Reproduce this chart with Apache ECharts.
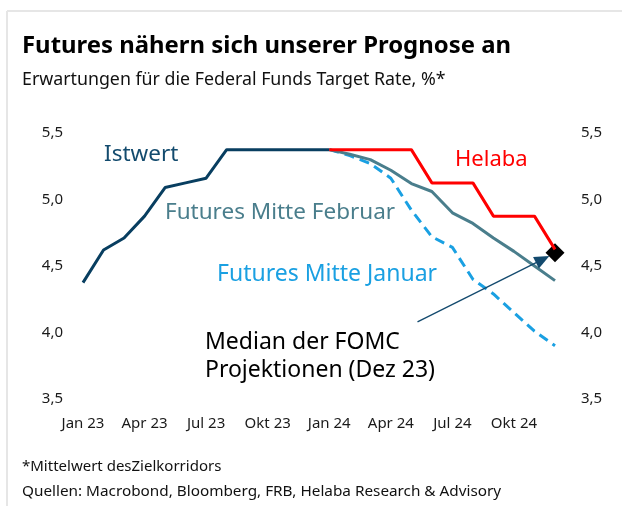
<!DOCTYPE html>
<html>
<head>
<meta charset="utf-8">
<script src="https://cdn.jsdelivr.net/npm/echarts@6/dist/echarts.min.js"></script>
<style>
  html, body { margin: 0; padding: 0; background: #fff; }
  #chartmain { width: 622px; height: 506px; }
</style>
</head>
<body>
<div id="chartmain"></div>
<script>
// Monate Jan 23 .. Dez 24
var months = ['Jan 23', 'Feb 23', 'Mär 23', 'Apr 23', 'Mai 23', 'Jun 23',
  'Jul 23', 'Aug 23', 'Sep 23', 'Okt 23', 'Nov 23', 'Dez 23',
  'Jan 24', 'Feb 24', 'Mär 24', 'Apr 24', 'Mai 24', 'Jun 24',
  'Jul 24', 'Aug 24', 'Sep 24', 'Okt 24', 'Nov 24', 'Dez 24'];

var istwert = [4.375, 4.62, 4.71, 4.875, 5.09, 5.125, 5.16, 5.375, 5.375, 5.375, 5.375, 5.375, 5.375,
  null, null, null, null, null, null, null, null, null, null, null];
var futuresFeb = [null, null, null, null, null, null, null, null, null, null, null, null,
  5.375, 5.34, 5.30, 5.22, 5.12, 5.06, 4.90, 4.82, 4.71, 4.61, 4.50, 4.39];
var futuresJan = [null, null, null, null, null, null, null, null, null, null, null, null,
  5.375, 5.33, 5.27, 5.16, 4.92, 4.72, 4.64, 4.40, 4.29, 4.15, 4.01, 3.90];
var helaba = [null, null, null, null, null, null, null, null, null, null, null, null,
  5.375, 5.375, 5.375, 5.375, 5.375, 5.125, 5.125, 5.125, 4.875, 4.875, 4.875, 4.625];
var fomcMedian = [[23, 4.6]];
var yTicks = [3.5, 4.0, 4.5, 5.0, 5.5];

function pairs(arr) {
  return arr.map(function (v, i) { return [i, v]; });
}

var font = 'Noto Sans';
var axisLbl = {
  fontFamily: font, fontSize: 15, color: '#1a1a1a',
  formatter: function (v) { return v.toFixed(1).replace('.', ','); }
};

// Textbausteine (Mitte der Versalhöhe)
function txt(x, y, s, size, color, weight) {
  return {
    type: 'text', x: x, y: y,
    style: {
      text: s, fill: color, verticalAlign: 'middle', align: 'left',
      font: (weight || 'normal') + ' ' + size + 'px "Noto Sans"'
    }
  };
}

var option = {
  backgroundColor: '#fff',
  animation: false,
  grid: { left: 83, right: 67, top: 133, bottom: 107 },
  xAxis: {
    type: 'value', min: 0, max: 23, interval: 3,
    axisLine: { show: false }, axisTick: { show: false }, splitLine: { show: false },
    axisLabel: {
      fontFamily: font, fontSize: 15, color: '#1a1a1a', margin: 17,
      showMaxLabel: false,
      formatter: function (v) { return v % 3 === 0 ? months[v] : ''; }
    }
  },
  yAxis: [{
    type: 'value', min: yTicks[0], max: yTicks[yTicks.length - 1], interval: 0.5,
    axisLine: { show: false }, axisTick: { show: false }, splitLine: { show: false },
    axisLabel: Object.assign({ margin: 20 }, axisLbl)
  }, {
    type: 'value', position: 'right', min: yTicks[0], max: yTicks[yTicks.length - 1], interval: 0.5,
    axisLine: { show: false }, axisTick: { show: false }, splitLine: { show: false },
    axisLabel: Object.assign({ margin: 26 }, axisLbl)
  }],
  series: [{
    name: 'Futures Mitte Januar', type: 'line', data: pairs(futuresJan),
    symbol: 'none', lineStyle: { color: '#1aa0e2', width: 3, type: [10, 6] }
  }, {
    name: 'Futures Mitte Februar', type: 'line', data: pairs(futuresFeb),
    symbol: 'none', lineStyle: { color: '#4a7e8c', width: 3 },
    markLine: {
      silent: true, symbol: ['none', 'triangle'], symbolSize: [13, 15],
      lineStyle: { color: '#134a6e', width: 1.3, type: 'solid' },
      label: { show: false },
      data: [[{ coord: [16.3, 4.08] }, { coord: [22.4, 4.55] }]]
    }
  }, {
    name: 'Istwert', type: 'line', data: pairs(istwert),
    symbol: 'none', lineStyle: { color: '#083e60', width: 3 }
  }, {
    name: 'Helaba', type: 'line', data: pairs(helaba),
    symbol: 'none', lineStyle: { color: '#ff0000', width: 3 }
  }, {
    name: 'Median FOMC', type: 'scatter', data: fomcMedian,
    symbol: 'diamond', symbolSize: [19, 19], itemStyle: { color: '#000', opacity: 1 }
  }],
  graphic: [
    { type: 'line', shape: { x1: 7, y1: 11, x2: 622, y2: 11 }, style: { stroke: '#e6e6e6', lineWidth: 2 } },
    { type: 'line', shape: { x1: 7, y1: 11, x2: 7, y2: 506 }, style: { stroke: '#e6e6e6', lineWidth: 2 } },
    txt(22, 46, 'Futures nähern sich unserer Prognose an', 23.9, '#000', 'bold'),
    txt(22, 80, 'Erwartungen für die Federal Funds Target Rate, %*', 17.8, '#111'),
    txt(104, 155, 'Istwert', 22.5, '#134b6e'),
    txt(455, 160, 'Helaba', 22, '#ff0000'),
    txt(165, 213, 'Futures Mitte Februar', 22.5, '#4a7e8c'),
    txt(217, 274, 'Futures Mitte Januar', 23, '#1aa0e2'),
    txt(205, 342, 'Median der FOMC', 23, '#000'),
    txt(205, 370, 'Projektionen (Dez 23)', 23, '#000'),
    txt(22, 467, '*Mittelwert desZielkorridors', 15, '#111'),
    txt(22, 492, 'Quellen: Macrobond, Bloomberg, FRB, Helaba Research & Advisory', 15.3, '#111')
  ]
};

var myChart = echarts.init(document.getElementById('chartmain'));
myChart.setOption(option);
</script>
</body>
</html>
